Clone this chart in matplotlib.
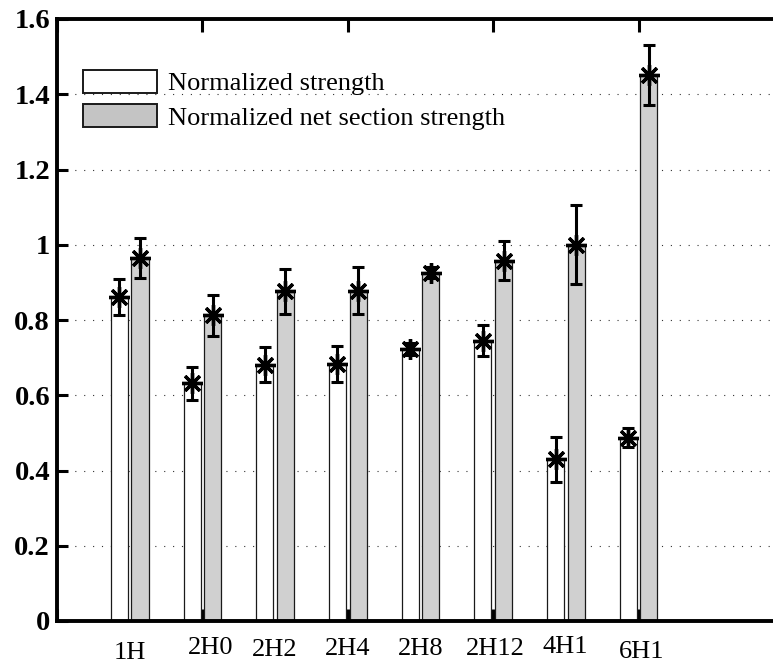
import numpy as np
import matplotlib
matplotlib.use("Agg")
import matplotlib.pyplot as plt
import matplotlib.transforms as mtransforms

# ---- data ----
categories = ["1H", "2H0", "2H2", "2H4", "2H8", "2H12", "4H1", "6H1"]
strength = [0.86, 0.632, 0.681, 0.683, 0.723, 0.745, 0.430, 0.487]
strength_err = [0.048, 0.044, 0.046, 0.049, 0.015, 0.042, 0.060, 0.025]
net_strength = [0.965, 0.812, 0.876, 0.878, 0.926, 0.958, 1.000, 1.452]
net_strength_err = [0.054, 0.055, 0.059, 0.063, 0.014, 0.053, 0.105, 0.080]
legend_labels = ["Normalized strength", "Normalized net section strength"]
yticks = [0, 0.2, 0.4, 0.6, 0.8, 1, 1.2, 1.4, 1.6]
ytick_labels = ["0", "0.2", "0.4", "0.6", "0.8", "1", "1.2", "1.4", "1.6"]

plt.rcParams['font.family'] = ['Liberation Serif', 'DejaVu Serif']

W, H = 773, 664
fig = plt.figure(figsize=(W / 100, H / 100), dpi=100)
ax = fig.add_axes([57 / W, 43 / H, 727 / W, 602 / H])

x = np.arange(1, len(categories) + 1)
off = 0.142
bw = 0.235

b1 = ax.bar(x - off, strength, width=bw, color='white', edgecolor='#1a1a1a',
            linewidth=0.9, zorder=2)
b2 = ax.bar(x + off, net_strength, width=bw, color='#d0d0d0', edgecolor='#1a1a1a',
            linewidth=0.9, zorder=2)

star = (8, 2, 0)
for xs, ys, es in [(x - off, strength, strength_err), (x + off, net_strength, net_strength_err)]:
    ax.errorbar(xs, ys, yerr=es, fmt='none', ecolor='black', elinewidth=2.2,
                capsize=4.2, capthick=2.2, zorder=4)
    ax.plot(xs, ys, linestyle='none', marker=star, markersize=15,
            markeredgewidth=2.4, color='black', zorder=5)

ax.set_xlim(0, 10)
ax.set_ylim(0, 1.6)
ax.set_yticks(yticks)
ax.set_yticklabels(ytick_labels, fontsize=20.5, fontweight='bold')
ax.set_xticks([0, 2, 4, 6, 8, 10])
ax.tick_params(axis='x', direction='in', top=True, bottom=True, length=9,
               width=2.2, labelbottom=False)
ax.tick_params(axis='y', direction='in', left=True, right=False, length=8,
               width=2.2, pad=5)

ax.yaxis.grid(True, linestyle=(0, (1, 7)), color='#333333', linewidth=0.8)
ax.set_axisbelow(True)
for s in ['left', 'bottom', 'top']:
    ax.spines[s].set_linewidth(2.8)
ax.spines['right'].set_visible(False)

# category labels under the groups
trans = mtransforms.blended_transform_factory(ax.transData, ax.transAxes)
dx_px = [0, 8, 0, 0, 0, 2, -1, 3]
dy_px = [-32, -27, -29, -28, -28, -28, -26, -31]
for xi, lab, dx, dy in zip(x, categories, dx_px, dy_px):
    t = mtransforms.offset_copy(trans, fig=fig, x=dx, y=dy, units='dots')
    ax.text(xi, 0, lab, transform=t, ha='center', va='center', fontsize=19)

leg = ax.legend([b1, b2], legend_labels, loc='upper left',
                bbox_to_anchor=(83 / W, 1 - 70 / H), bbox_transform=fig.transFigure,
                frameon=False, fontsize=19, handlelength=2.8, handleheight=0.95,
                handletextpad=0.42, labelspacing=0.33, borderpad=0, borderaxespad=0)
for h in leg.legend_handles:
    h.set_linewidth(1.4)
leg.legend_handles[1].set_facecolor('#c4c4c4')

fig.savefig("out.png", dpi=100)
